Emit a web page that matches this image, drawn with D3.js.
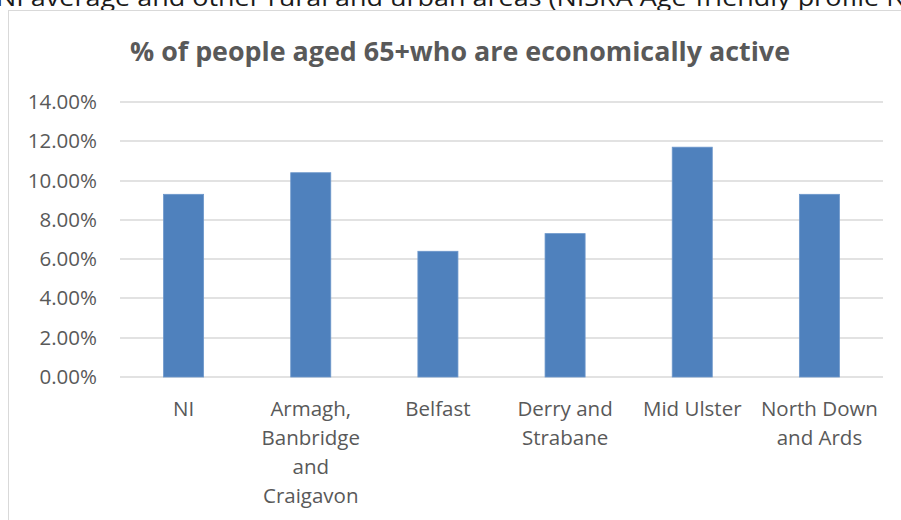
<!DOCTYPE html>
<html lang="en">
<head>
  <meta charset="UTF-8">
  <title>% of people aged 65+ who are economically active</title>
  <script src="https://d3js.org/d3.v7.min.js"></script>
  <style>
    body {
      margin: 0;
      background: #fff;
      font-family: "Open Sans", sans-serif;
    }
    svg { display: block; }
    .grid line { stroke: #d9d9d9; stroke-width: 1.5; }
    .axis text { fill: #595959; font-size: 20.5px; font-family: "Open Sans", sans-serif; }
  </style>
</head>
<body>
  <svg id="chart" width="901" height="520"></svg>

  <script>
    const categories = ["NI", "Armagh, Banbridge and Craigavon", "Belfast", "Derry and Strabane", "Mid Ulster", "North Down and Ards"];
    const categoryLines = [["NI"], ["Armagh,", "Banbridge", "and", "Craigavon"], ["Belfast"], ["Derry and", "Strabane"], ["Mid Ulster"], ["North Down", "and Ards"]];
    const values = [0.093, 0.104, 0.064, 0.073, 0.117, 0.093];
    const yTicks = [0, 0.02, 0.04, 0.06, 0.08, 0.10, 0.12, 0.14];
    const title = "% of people aged 65+who are economically active";
    const pageText = "NI average and other rural and urban areas (NISRA Age-friendly profile NI";

    const svg = d3.select("#chart");

    // line of the page text above the chart, cut at the top edge
    svg.append("text")
      .attr("x", -4)
      .attr("y", 6)
      .attr("fill", "#1a1a1a")
      .attr("textLength", 918)
      .attr("lengthAdjust", "spacingAndGlyphs")
      .style("font-size", "23px")
      .text(pageText);

    // chart frame
    svg.append("rect")
      .attr("x", 8.5)
      .attr("y", 10.5)
      .attr("width", 920)
      .attr("height", 540)
      .attr("fill", "#fff")
      .attr("stroke", "#d9d9d9");

    svg.append("text")
      .attr("x", 460)
      .attr("y", 61)
      .attr("text-anchor", "middle")
      .attr("fill", "#595959")
      .attr("textLength", 660)
      .attr("lengthAdjust", "spacingAndGlyphs")
      .style("font-size", "27px")
      .style("font-weight", "bold")
      .text(title);

    const x = d3.scaleBand()
      .domain(categories)
      .range([120, 883])
      .paddingInner(0.685)
      .paddingOuter(0.3425);

    const y = d3.scaleLinear()
      .domain([0, 0.14])
      .range([377, 102]);

    // gridlines
    svg.append("g")
      .attr("class", "grid")
      .selectAll("line")
      .data(yTicks)
      .join("line")
      .attr("x1", 120)
      .attr("x2", 883)
      .attr("y1", d => Math.round(y(d)))
      .attr("y2", d => Math.round(y(d)));

    // y axis labels
    const yAxis = svg.append("g")
      .attr("class", "axis")
      .attr("transform", "translate(120,0)")
      .call(d3.axisLeft(y).tickValues(yTicks).tickFormat(d3.format(".2%")).tickSize(0).tickPadding(23));
    yAxis.select(".domain").remove();

    // bars
    svg.append("g")
      .selectAll("rect")
      .data(values)
      .join("rect")
      .attr("x", (d, i) => x(categories[i]))
      .attr("y", d => y(d))
      .attr("width", x.bandwidth())
      .attr("height", d => y(0) - y(d))
      .attr("fill", "#4f81bd")
      .attr("stroke", "#6d97cb")
      .attr("stroke-width", 0.8);

    // category labels
    const xLabels = svg.append("g").attr("class", "axis");
    categories.forEach((c, i) => {
      const t = xLabels.append("text")
        .attr("text-anchor", "middle")
        .attr("x", x(c) + x.bandwidth() / 2)
        .attr("y", 416);
      categoryLines[i].forEach((line, j) => {
        t.append("tspan")
          .attr("x", x(c) + x.bandwidth() / 2)
          .attr("dy", j === 0 ? 0 : 29)
          .text(line);
      });
    });
  </script>
</body>
</html>
